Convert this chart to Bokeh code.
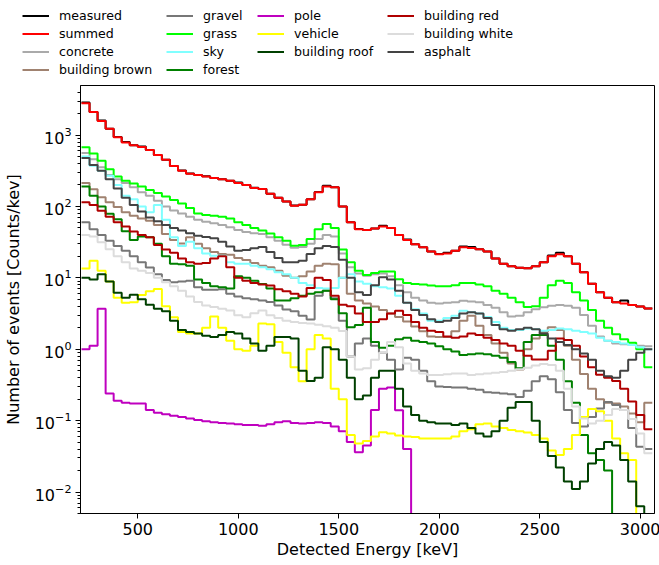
from bokeh.plotting import figure
from bokeh.layouts import column
from bokeh.models import Legend, LegendItem, FixedTicker, LogTicker, Range1d
from bokeh.embed import file_html
from bokeh.resources import INLINE

# energy bins (keV)
BIN_START = 220
BIN_WIDTH = 40

measured = [2850, 2100, 1600, 1230, 940, 800, 720, 690, 620, 525, 450, 370, 320, 290, 275, 265, 251, 240, 229, 216,
            200, 183, 176, 151, 133, 117, 103, 106, 126, 160, 195, 186, 100, 60.3, 48.5, 46.8, 49.0, 53.5, 50.1, 39.8,
            34.5, 29.5, 26.9, 23.4, 21.6, 22.4, 24.0, 27.5, 27.0, 25.1, 23.4, 18.6, 15.8, 14.5, 13.8, 13.6, 14.5, 16.6,
            20.5, 22.5, 20.0, 15.8, 12.0, 8.3, 6.3, 5.25, 4.57, 4.8, 4.17, 3.98, 3.72]
summed = [2800, 2100, 1580, 1230, 930, 790, 720, 680, 620, 525, 450, 370, 316, 288, 275, 263, 251, 240, 229, 214,
          200, 182, 176, 151, 132, 117, 102, 106, 126, 158, 191, 186, 100, 60.3, 47.9, 46.8, 49.0, 52.5, 50.1, 39.8,
          33.9, 29.5, 26.9, 23.4, 21.4, 21.9, 24.0, 26.9, 26.3, 25.1, 23.4, 18.6, 15.8, 14.5, 13.8, 13.6, 14.5, 16.6,
          20.0, 21.4, 20.0, 15.8, 12.0, 8.3, 6.3, 5.25, 4.57, 4.37, 4.17, 3.98, 3.72]
concrete = [562, 457, 355, 275, 240, 214, 186, 158, 141, 120, 100, 88, 80, 72, 65, 61, 58, 55, 51, 47,
            44, 42, 41, 37, 33, 29, 26.5, 27, 30, 35, 40, 38, 22, 14.1, 11.5, 10.7, 11.2, 11.5, 10.5, 7.9,
            6.3, 5.25, 4.8, 4.47, 4.37, 4.47, 4.57, 4.79, 4.68, 4.57, 4.17, 3.80, 3.31, 2.88, 2.95, 3.31, 3.63, 3.89,
            4.07, 4.17, 4.07, 3.80, 3.02, 2.14, 1.51, 1.32, 1.20, 1.17, 1.15, 1.12, 1.10]
building_brown = [214, 174, 135, 115, 98, 83, 74, 68, 63, 55, 41, 33.9, 30.2, 37, 30, 26, 23, 21.6, 21, 19,
                  17.8, 16.2, 14.8, 14.1, 12.6, 10.7, 10.0, 10.5, 12.3, 14.8, 15.8, 15.5, 10.0, 6.0, 4.8, 4.37, 3.98, 3.55, 3.16, 2.82,
                  2.45, 2.09, 1.78, 1.51, 1.48, 1.48, 1.78, 2.51, 2.95, 2.14, 1.58, 1.20, 0.89, 0.63, 0.52, 1.00, 1.41, 1.74,
                  2.04, 1.86, 1.12, 0.71, 0.45, 0.28, 0.20, 0.178, 0.174, 0.158, 0.126, 0.095, 0.178]
gravel = [60, 48, 40, 33, 28, 24, 20, 16.6, 14, 11.2, 9.3, 8.7, 8.9, 9.1, 7.4, 6.8, 6.8, 6.9, 6.0, 5.5,
          5.2, 5.0, 4.8, 4.6, 4.1, 3.6, 3.4, 2.95, 2.6, 5.6, 6.6, 5.2, 2.5, 0.79, 1.20, 1.41, 1.12, 0.89, 0.71, 0.52,
          0.76, 0.71, 0.50, 0.355, 0.30, 0.295, 0.29, 0.29, 0.28, 0.27, 0.25, 0.245, 0.24, 0.234, 0.214, 0.263, 0.355, 0.417,
          0.38, 0.25, 0.141, 0.093, 0.083, 0.112, 0.148, 0.182, 0.166, 0.141, 0.079, 0.043, 0.040]
grass = [676, 550, 437, 331, 263, 229, 209, 191, 170, 155, 138, 123, 110, 95, 80, 76, 74, 72, 67.6, 60,
         55.0, 50.1, 46, 41.7, 37.2, 33.1, 28.2, 28.8, 35, 48, 57, 50, 25, 16.6, 12.6, 11.0, 11.7, 12.3, 12.3, 9.55,
         8.5, 8.2, 8.1, 7.8, 7.6, 7.6, 7.9, 8.5, 8.5, 8.1, 7.6, 6.6, 6.0, 5.25, 4.57, 3.9, 4.0, 5.25,
         7.9, 9.1, 8.5, 6.3, 4.8, 3.55, 2.5, 2.0, 1.62, 1.38, 1.23, 1.0, 0.56]
sky = [500, 372, 316, 269, 200, 141, 126, 100, 83, 105, 65, 37, 28, 32, 26, 22, 20.4, 20.4, 16.6, 15.8,
       15.8, 14.8, 14.1, 13.2, 12.0, 11.2, 10.0, 8.5, 7.9, 7.2, 7.1, 7.2, 10.0, 11.2, 8.9, 8.3, 7.6, 7.4, 7.1, 5.6,
       4.47, 3.63, 3.16, 2.51, 2.51, 2.75, 2.95, 3.47, 3.31, 3.16, 2.82, 2.40, 2.0, 1.86, 1.86, 1.95, 1.91, 1.82,
       1.86, 1.95, 1.91, 1.82, 1.74, 1.66, 1.45, 1.32, 1.26, 1.20, 1.15, 1.07, 1.00]
forest = [191, 141, 100, 79, 66, 45, 34, 38, 37, 30, 20, 15.7, 15.5, 14.8, 9.5, 8.5, 7.6, 7.4, 7.1, 10.5,
          10.0, 9.1, 8.2, 7.1, 4.8, 4.8, 5.2, 5.6, 6.0, 6.3, 6.6, 5.0, 3.2, 2.04, 2.19, 3.8, 1.26, 1.05, 1.12, 1.38,
          1.45, 1.32, 1.26, 1.20, 1.10, 1.00, 0.93, 0.83, 0.85, 0.87, 0.85, 0.81, 0.76, 0.66, 0.54, 1.26, 1.58, 1.58,
          1.12, 0.71, 0.355, 0.178, 0.063, 0.035, 0.028, 0.020, 0.001]
pole = [1.0, 1.12, 3.7, 0.24, 0.19, 0.178, 0.174, 0.174, 0.141, 0.129, 0.123, 0.117, 0.112, 0.107, 0.102, 0.098, 0.095, 0.093, 0.091, 0.089,
        0.087, 0.087, 0.085, 0.089, 0.095, 0.098, 0.093, 0.091, 0.093, 0.095, 0.093, 0.083, 0.071, 0.050, 0.036, 0.045, 0.141, 0.28, 0.29, 0.14,
        0.04, 0.001]
vehicle = [13.5, 17.4, 12.6, 8.9, 5.25, 4.47, 4.57, 5.75, 6.5, 7.0, 4.0, 2.8, 1.74, 1.66, 1.66, 2.0, 2.88, 2.0, 1.32, 1.00,
           0.95, 1.12, 2.29, 2.24, 1.26, 0.89, 0.56, 0.355, 1.0, 1.58, 1.41, 0.28, 0.20, 0.063, 0.048, 0.052, 0.060, 0.069, 0.066, 0.062,
           0.060, 0.059, 0.056, 0.056, 0.056, 0.056, 0.060, 0.071, 0.076, 0.089, 0.091, 0.083, 0.079, 0.074, 0.071, 0.068, 0.063, 0.056,
           0.038, 0.033, 0.040, 0.063, 0.112, 0.145, 0.135, 0.10, 0.056, 0.035, 0.028, 0.001]
building_roof = [10.0, 9.5, 11.2, 8.9, 6.2, 5.25, 5.8, 5.0, 4.2, 3.7, 3.4, 2.5, 1.86, 1.74, 1.66, 1.55, 1.48, 1.58, 1.74, 1.66,
                 1.41, 1.2, 0.95, 1.12, 1.48, 1.48, 1.41, 0.50, 0.36, 0.40, 1.07, 1.0, 0.71, 0.40, 0.20, 0.224, 0.40, 0.50, 0.50, 0.28,
                 0.158, 0.12, 0.10, 0.095, 0.091, 0.091, 0.087, 0.091, 0.079, 0.066, 0.060, 0.071, 0.10, 0.151, 0.182, 0.182, 0.10, 0.050,
                 0.032, 0.022, 0.014, 0.011, 0.014, 0.025, 0.040, 0.050, 0.045, 0.028, 0.014, 0.0063, 0.004]
building_red = [115, 105, 87, 72, 60, 52.5, 44.7, 39.8, 37, 28.8, 25, 22.4, 18.6, 16.6, 15.8, 16.2, 18.6, 20, 14.1, 10,
                9.1, 8.5, 8.1, 7.8, 6.9, 6.5, 6.0, 5.5, 7.2, 10.0, 9.3, 5.6, 4.2, 4.0, 3.16, 2.40, 2.40, 2.63, 3.16, 3.47,
                3.02, 2.40, 2.0, 1.82, 1.74, 1.51, 1.45, 1.51, 1.66, 1.58, 1.45, 1.35, 1.20, 1.12, 0.95, 0.81, 0.72, 0.72,
                0.95, 1.41, 1.35, 1.12, 0.79, 0.56, 0.44, 0.40, 0.36, 0.28, 0.186, 0.12, 0.076]
building_white = [39.8, 38.0, 31.6, 25.1, 20.0, 16.6, 13.5, 12.6, 11.7, 10.0, 8.7, 7.6, 6.6, 5.5, 4.6, 4.1, 3.9, 3.7, 3.5, 3.0,
                  2.8, 3.2, 3.5, 3.0, 2.75, 2.5, 2.4, 2.34, 2.3, 2.2, 2.1, 2.0, 1.8, 0.79, 0.52, 0.54, 0.71, 0.89, 1.26, 1.07,
                  0.63, 0.50, 0.457, 0.437, 0.437, 0.447, 0.457, 0.457, 0.437, 0.447, 0.457, 0.468, 0.479, 0.50, 0.525, 0.55, 0.59, 0.62,
                  0.60, 0.50, 0.28, 0.158, 0.107, 0.091, 0.10, 0.12, 0.145, 0.141, 0.105, 0.066, 0.035]
asphalt = [479, 380, 316, 240, 178, 132, 105, 85, 70, 62, 55, 50, 46, 42, 39, 37.5, 36, 32, 27.5, 24,
           24.5, 26, 27, 23, 19, 16.6, 16.6, 17.4, 21.6, 26, 28, 27, 18, 10.0, 6.3, 5.75, 7.9, 10.2, 9.5, 6.6,
           4.47, 3.55, 3.02, 2.63, 2.40, 2.51, 2.75, 3.16, 3.31, 3.16, 2.75, 2.19, 1.91, 1.82, 1.91, 2.0, 1.91, 1.66,
           1.41, 1.26, 1.15, 1.0, 0.87, 0.71, 0.50, 0.42, 0.40, 0.50, 0.71, 0.89, 1.0]

series = [
    ("measured", measured, "#000000"),
    ("summed", summed, "#ff0000"),
    ("concrete", concrete, "#aaaaaa"),
    ("building brown", building_brown, "#a08270"),
    ("gravel", gravel, "#777777"),
    ("grass", grass, "#00ff00"),
    ("sky", sky, "#80ffff"),
    ("forest", forest, "#008000"),
    ("pole", pole, "#bf00bf"),
    ("vehicle", vehicle, "#ffff00"),
    ("building roof", building_roof, "#004000"),
    ("building red", building_red, "#b00000"),
    ("building white", building_white, "#dcdcdc"),
    ("asphalt", asphalt, "#444444"),
]


def step_xy(vals):
    xs = [BIN_START + BIN_WIDTH * i for i in range(len(vals) + 1)]
    ys = list(vals) + [vals[-1]]
    return xs, ys


FONT = "DejaVu Sans"
FRAME_H = 428
LEG_FIG_H = 84

# ---------------- main plot ----------------
p = figure(frame_width=574, frame_height=FRAME_H, y_axis_type="log",
           x_range=Range1d(215, 3071), y_range=Range1d(0.005, 4950),
           output_backend="svg", toolbar_location=None,
           min_border_left=79, min_border_right=6, min_border_top=1, min_border_bottom=52)
p.frame_align = False

for name, vals, color in series:
    xs, ys = step_xy(vals)
    p.step(xs, ys, mode="after", line_color=color, line_width=2)

p.grid.visible = False
p.outline_line_color = "black"
p.outline_line_alpha = 1
p.outline_line_width = 1

p.xaxis.ticker = FixedTicker(ticks=[500, 1000, 1500, 2000, 2500, 3000], minor_ticks=[])
p.yaxis.ticker = LogTicker(num_minor_ticks=10)
for ax in (p.xaxis[0], p.yaxis[0]):
    ax.axis_line_color = "black"
    ax.major_tick_line_color = "black"
    ax.minor_tick_line_color = "black"
    ax.major_tick_in = 0
    ax.major_tick_out = 5
    ax.minor_tick_in = 0
    ax.minor_tick_out = 3
    ax.major_label_text_font = FONT
    ax.major_label_text_font_size = "16px"
    ax.major_label_text_color = "black"
    ax.axis_label_text_font = FONT
    ax.axis_label_text_font_size = "16px"
    ax.axis_label_text_font_style = "normal"
    ax.axis_label_text_color = "black"
    ax.major_label_standoff = 4
p.xaxis.axis_label = "Detected Energy [keV]"
p.yaxis.axis_label = "Number of events [Counts/kev]"
p.xaxis.axis_label_standoff = 2
p.yaxis.axis_label_standoff = 9

# ---------------- legend strip above the plot ----------------
# same series drawn in a view range that shows none of them; only the legend is visible
lg = figure(width=659, height=LEG_FIG_H, x_range=Range1d(-20, -10), y_range=Range1d(-20, -10),
            output_backend="svg", toolbar_location=None, min_border=0)
lg.frame_align = False
lg.axis.visible = False
lg.grid.visible = False
lg.outline_line_color = None
proxies = {}
for name, vals, color in series:
    xs, ys = step_xy(vals)
    proxies[name] = lg.step(xs, ys, mode="after", line_color=color, line_width=2)

ROW_H = 15
ROW_GAP = 3
LEG_TOP = 8
legend_columns = [
    (["measured", "summed", "concrete", "building brown"], 22),
    (["gravel", "grass", "sky", "forest"], 166),
    (["pole", "vehicle", "building roof"], 257),
    (["building red", "building white", "asphalt"], 387),
]
for names, xpos in legend_columns:
    n = len(names)
    leg_h = n * ROW_H + (n - 1) * ROW_GAP
    leg = Legend(items=[LegendItem(label=nm, renderers=[proxies[nm]]) for nm in names],
                 location=(xpos, LEG_FIG_H - LEG_TOP - leg_h), orientation="vertical")
    leg.label_text_font = FONT
    leg.label_text_font_size = "12.6px"
    leg.label_text_color = "black"
    leg.label_height = ROW_H
    leg.glyph_height = ROW_H
    leg.glyph_width = 27
    leg.label_standoff = 10
    leg.spacing = ROW_GAP
    leg.padding = 0
    leg.margin = 0
    leg.border_line_alpha = 0
    leg.background_fill_alpha = 0
    lg.add_layout(leg, "center")

layout = column(lg, p, spacing=0)
open("out.html", "w").write(file_html(layout, INLINE))
